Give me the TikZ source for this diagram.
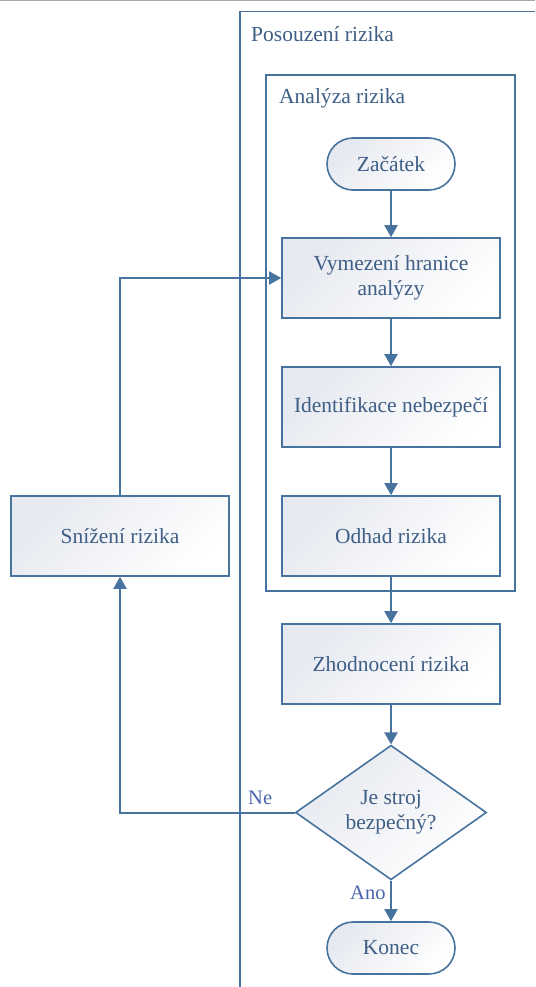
\documentclass[tikz,border=0pt]{standalone}
\usepackage{fontspec}
\setmainfont{Liberation Serif}
\usetikzlibrary{shapes.geometric,arrows.meta}
\definecolor{edge}{HTML}{47739F}
\definecolor{ink}{HTML}{3E5E86}
\definecolor{lbl}{HTML}{4A64AC}
\definecolor{tint}{HTML}{E6E9F0}
\definecolor{rulegray}{HTML}{A6A6A6}

\begin{document}
\begin{tikzpicture}[x=1pt,y=-1pt,
  font=\fontsize{21.5}{25}\selectfont,
  box/.style={draw=edge, line width=1.6pt, top color=tint, bottom color=white,
    shading angle=45, text=ink, align=center, inner sep=0pt},
  proc/.style={box, minimum width=218pt, minimum height=80pt},
  term/.style={box, minimum width=128pt, minimum height=52pt, rounded corners=26pt},
  dec/.style={box, diamond, minimum width=191pt, minimum height=119pt},
  flow/.style={draw=edge, line width=2pt, -{Triangle[width=13pt,length=12pt]}},
  frame/.style={draw=edge, line width=1.6pt},
  title/.style={anchor=base west, text=ink, inner sep=0pt},
  lab/.style={anchor=base west, text=lbl, font=\fontsize{20.5}{24}\selectfont, inner sep=0pt}
]
\useasboundingbox (0,0) rectangle (535,987);

% top rule
\draw[rulegray, line width=1.5pt] (0,0.75) -- (535,0.75);

% outer frame (open to the right and bottom)
\draw[frame] (240,987) -- (240,11.5) -- (535,11.5);
\node[title] (tpos) at (251,42) {Posouzení rizika};

% inner frame
\node[frame, minimum width=249pt, minimum height=516pt, inner sep=0pt] (ana) at (390.5,333) {};
\node[title] (tana) at (279,104) {Analýza rizika};

% flow nodes
\node[term] (start) at (391,164) {Začátek};
\node[proc] (vym) at (391,278) {Vymezení hranice\\analýzy};
\node[proc] (ident) at (391,407) {Identifikace nebezpečí};
\node[proc] (odhad) at (391,536) {Odhad rizika};
\node[proc] (zhod) at (391,664) {Zhodnocení rizika};
\node[dec] (dec) at (391,812.5) {Je stroj\\bezpečný?};
\node[term] (konec) at (391,948) {Konec};
\node[proc] (sniz) at (120,536) {Snížení rizika};

% connectors
\draw[flow] (start) -- (vym);
\draw[flow] (vym) -- (ident);
\draw[flow] (ident) -- (odhad);
\draw[flow] (odhad) -- (zhod);
\draw[flow] (zhod) -- (dec);
\draw[flow] (dec) -- (konec);
\draw[flow] (sniz.north) |- (vym.west);
\draw[flow] (dec.west) -| (sniz.south);

% branch labels
\node[lab] (ne) at (248,804) {Ne};
\node[lab] (ano) at (350,899) {Ano};
\end{tikzpicture}
\end{document}
